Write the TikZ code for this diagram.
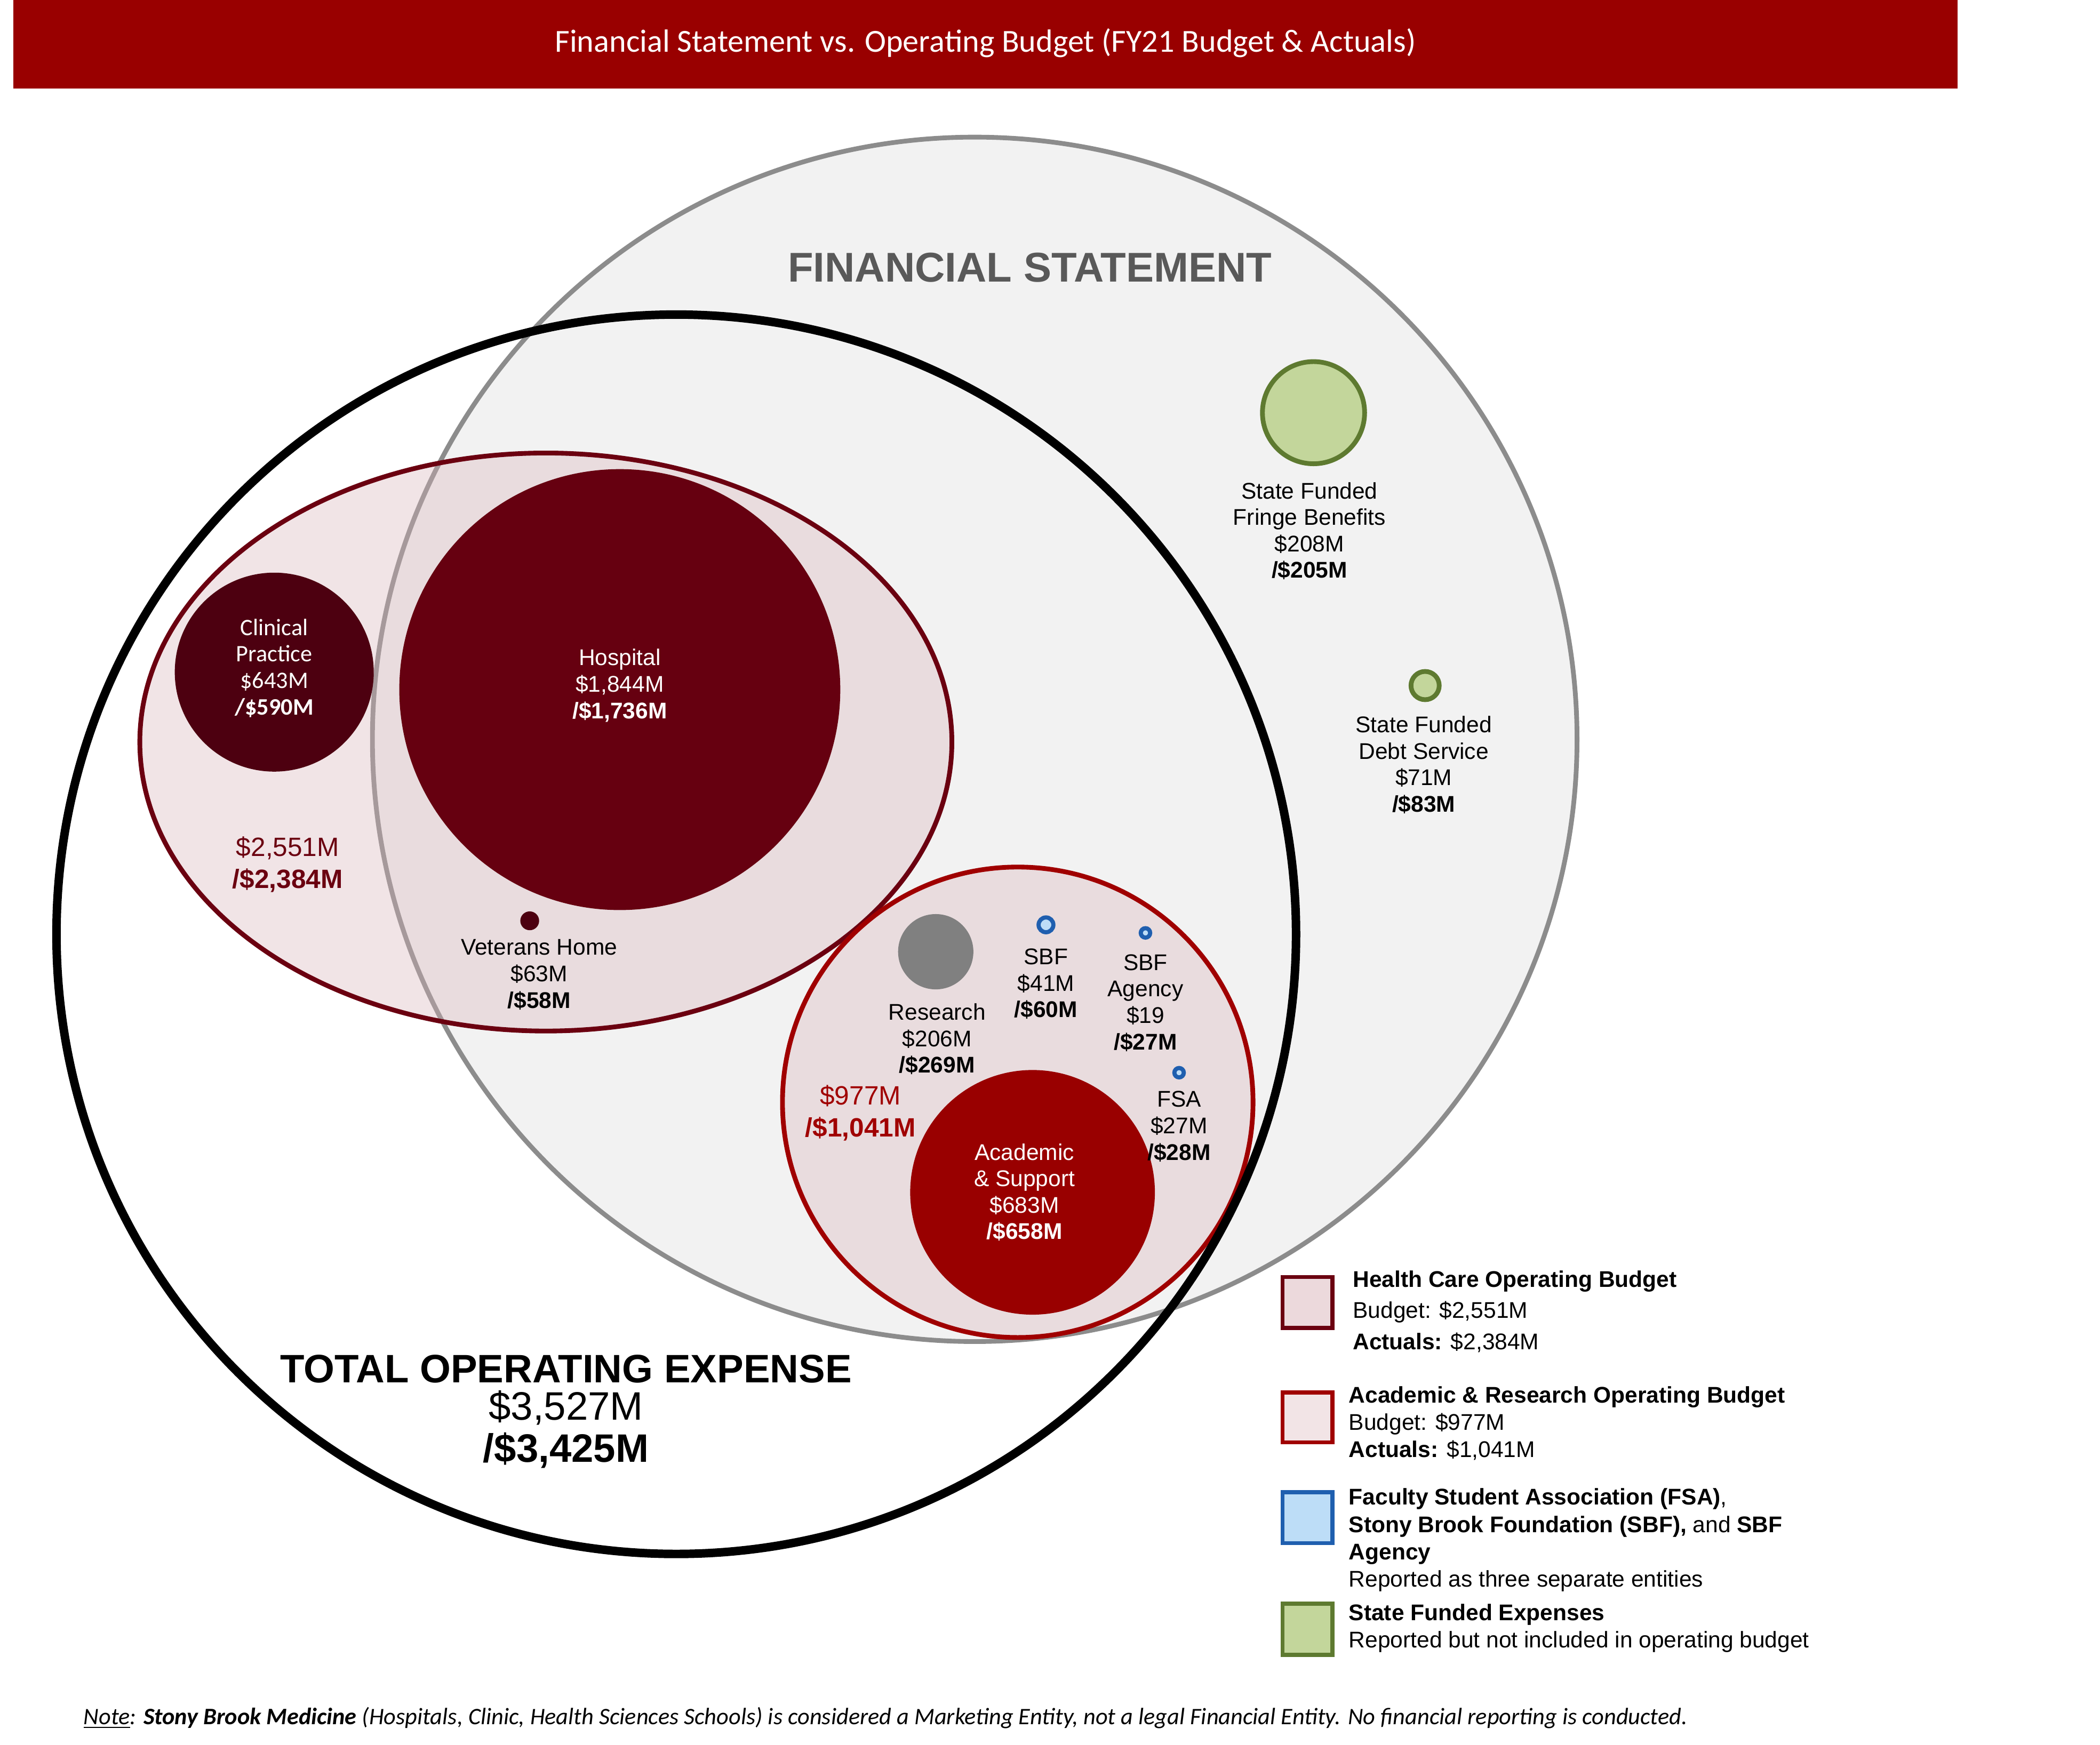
\documentclass[tikz,border=0pt]{standalone}
\usepackage{fontspec}
\setmainfont{Liberation Sans}
\newfontfamily\calfont{Carlito}
\definecolor{barred}{HTML}{990000}
\definecolor{fsgray}{HTML}{F2F2F2}
\definecolor{fsline}{HTML}{8C8C8C}
\definecolor{hcline}{HTML}{6B0010}
\definecolor{hosp}{HTML}{660010}
\definecolor{clin}{HTML}{4D0010}
\definecolor{acline}{HTML}{A00000}
\definecolor{pinkf}{HTML}{D9B3B9}
\definecolor{sgreen}{HTML}{C3D69B}
\definecolor{sgline}{HTML}{5E7A30}
\definecolor{sblue}{HTML}{1F5FAF}
\definecolor{lblue}{HTML}{BDDDF7}
\definecolor{lbl}{HTML}{595959}
\definecolor{resg}{HTML}{808080}
\tikzset{
 lab/.style={font=\fontsize{12}{14}\selectfont,align=center,inner sep=0},
 wlab/.style={lab,text=white},
 bluedot/.style={draw=sblue,fill=lblue,line width=2.2},
 greendot/.style={draw=sgline,fill=sgreen,line width=2.5},
 legbox/.style={line width=2.2},
 legtxt/.style={anchor=north west,align=left,inner sep=0,font=\fontsize{12}{14.5}\selectfont}
}
\begin{document}
\begin{tikzpicture}[x=0.025cm,y=-0.025cm]
\useasboundingbox[fill=white] (0,0) rectangle (1562,1298);
\fill[barred] (10,0) rectangle (1456,66);
\node[text=white,font=\calfont\fontsize{17}{20}\selectfont] (title) at (733,32) {Financial Statement vs. Operating Budget (FY21 Budget \& Actuals)};
% financial statement
\draw[fill=fsgray,draw=fsline,line width=2.5] (725,550) circle (448);
\node[text=lbl,font=\bfseries\fontsize{22}{26}\selectfont] (fst) at (766,199) {FINANCIAL STATEMENT};
% health care ellipse
\draw[fill=pinkf,fill opacity=0.35,draw=hcline,line width=2.5] (406,552) ellipse (302 and 215);
\fill[hosp] (461,513) circle (164);
\node[wlab] (hl) at (461,510) {Hospital\\\$1,844M\\\textbf{/\$1,736M}};
\fill[clin] (204,500) circle (74);
\node[wlab,font=\calfont\fontsize{12.5}{14}\selectfont] (cl) at (204,497) {Clinical\\Practice\\\$643M\\\textbf{/\$590M}};
\fill[clin] (394,685) circle (7);
\node[lab] (vh) at (401,725) {Veterans Home\\\$63M\\\textbf{/\$58M}};
\node[text=hcline,align=center,inner sep=0,font=\fontsize{14}{17}\selectfont] (hct) at (214,643) {\$2,551M\\\textbf{/\$2,384M}};
% academic
\draw[fill=pinkf,fill opacity=0.35,draw=acline,line width=2.5] (757,820) circle (175);
\fill[barred] (768,887) circle (91);
\node[wlab] (as) at (762,887) {Academic\\\& Support\\\$683M\\\textbf{/\$658M}};
\fill[resg] (696,708) circle (28);
\node[lab] (rs) at (697,773) {Research\\\$206M\\\textbf{/\$269M}};
\draw[bluedot] (778,688) circle (5.5);
\node[lab] (sbf) at (778,732) {SBF\\\$41M\\\textbf{/\$60M}};
\draw[bluedot] (852,694) circle (3.5);
\node[lab] (sba) at (852,746) {SBF\\Agency\\\$19\\\textbf{/\$27M}};
\draw[bluedot] (877,798) circle (3.5);
\node[lab] (fsa) at (877,838) {FSA\\\$27M\\\textbf{/\$28M}};
\node[text=acline,align=center,inner sep=0,font=\fontsize{14}{17}\selectfont] (act) at (640,828) {\$977M\\\textbf{/\$1,041M}};
% state funded
\draw[greendot] (977,307) circle (38);
\node[lab] (sff) at (974,395) {State Funded\\Fringe Benefits\\\$208M\\\textbf{/\$205M}};
\draw[greendot] (1060,510) circle (10.5);
\node[lab] (sfd) at (1059,569) {State Funded\\Debt Service\\\$71M\\\textbf{/\$83M}};
% total
\draw[line width=4.5] (503,695) circle (461);
\node[align=center,inner sep=0] (tot) at (421,1050) {{\bfseries\fontsize{21}{25}\selectfont TOTAL OPERATING EXPENSE}\\[3pt]{\fontsize{21}{25}\selectfont \$3,527M}\\[3pt]{\bfseries\fontsize{21}{25}\selectfont /\$3,425M}};
% legend
\draw[legbox,draw=hcline,fill=pinkf!50] (954,950) rectangle (991,988);
\node[legtxt] (l1) at (1006,945) {\textbf{Health Care Operating Budget}\\[2pt]Budget: \$2,551M\\[2pt]\textbf{Actuals:} \$2,384M};
\draw[legbox,draw=acline,fill=pinkf!35] (954,1036) rectangle (991,1073);
\node[legtxt] (l2) at (1003,1031) {\textbf{Academic \& Research Operating Budget}\\Budget: \$977M\\\textbf{Actuals:} \$1,041M};
\draw[legbox,draw=sblue,fill=lblue] (954,1110) rectangle (991,1148);
\node[legtxt] (l3) at (1003,1107) {\textbf{Faculty Student Association (FSA)},\\\textbf{Stony Brook Foundation (SBF),} and \textbf{SBF}\\\textbf{Agency}\\Reported as three separate entities};
\draw[legbox,draw=sgline,fill=sgreen] (954,1193) rectangle (991,1231);
\node[legtxt] (l4) at (1003,1193) {\textbf{State Funded Expenses}\\Reported but not included in operating budget};
\node[anchor=west,inner sep=0,font=\calfont\itshape\fontsize{12.5}{15}\selectfont] (note) at (62,1278) {\underline{Note}: \textbf{Stony Brook Medicine} (Hospitals, Clinic, Health Sciences Schools) is considered a Marketing Entity, not a legal Financial Entity. No financial reporting is conducted.};
\end{tikzpicture}
\end{document}
